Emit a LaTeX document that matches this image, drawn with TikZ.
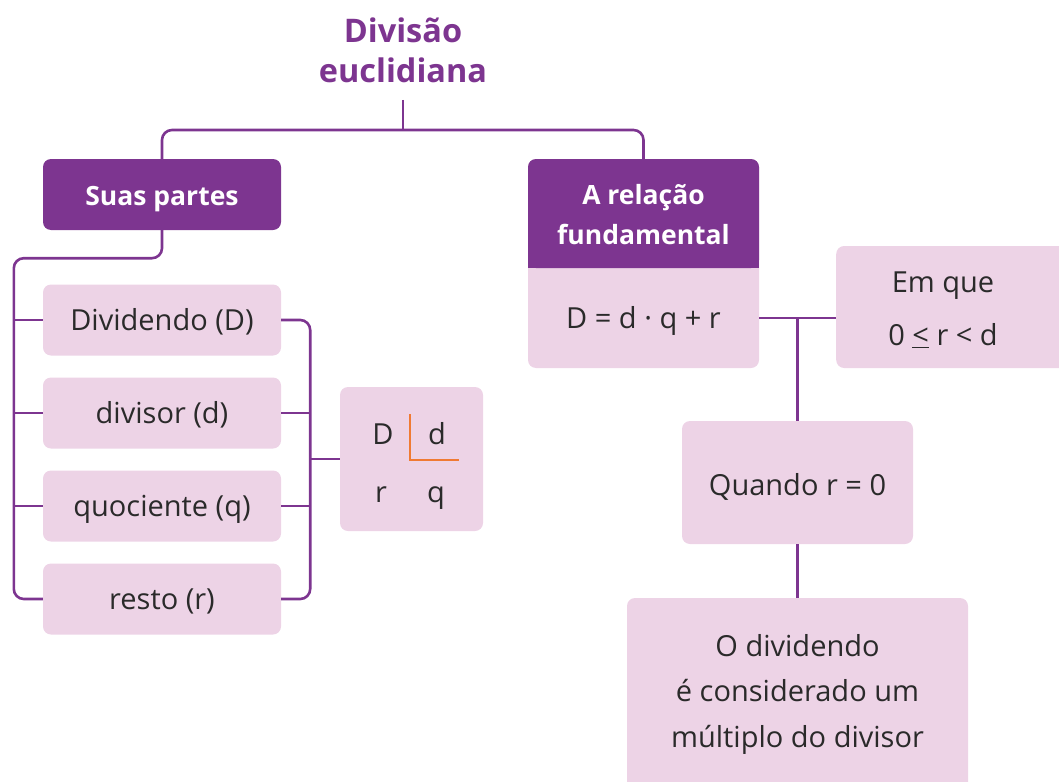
\documentclass[tikz,border=0pt]{standalone}
\usepackage{fontspec}
\setmainfont{Open Sans}
\definecolor{purp}{HTML}{7D3590}
\definecolor{pinkf}{HTML}{EDD3E6}
\definecolor{ink}{HTML}{2A2A2A}
\definecolor{orng}{HTML}{F07A33}
\begin{document}
\begin{tikzpicture}[x=1pt,y=-1pt,
  conn/.style={draw=purp, line width=2.6pt},
  bodyfont/.style={font=\fontsize{29}{34}\selectfont},
  pinkbox/.style={fill=pinkf, rounded corners=8pt, inner sep=0pt, text=ink,
    bodyfont, text height=21pt, text depth=0pt},
  headbox/.style={fill=purp, rounded corners=8pt, inner sep=0pt, text=white,
    font=\fontsize{26.5}{40}\selectfont\bfseries},
  txt/.style={text=ink, inner sep=0pt, align=center},
  titletxt/.style={text=purp, inner sep=0pt, align=center,
    font=\fontsize{32.5}{40}\selectfont\bfseries}]
\useasboundingbox (0,0) rectangle (1059,781);

% title
\node[titletxt] (title) at (403,50) {Divisão\\euclidiana};
\coordinate (top) at (403,100);
\coordinate (hub) at (403,130);

% left branch
\node[headbox, minimum width=238pt, minimum height=71pt, text height=22pt, text depth=0pt] (suas) at (162,194.5) {Suas partes};
\node[pinkbox, minimum width=238pt, minimum height=71pt] (dividendo) at (162,320) {Dividendo (D)};
\node[pinkbox, minimum width=238pt, minimum height=71pt] (divisor) at (162,413) {divisor (d)};
\node[pinkbox, minimum width=238pt, minimum height=71pt] (quoc) at (162,506) {quociente (q)};
\node[pinkbox, minimum width=238pt, minimum height=71pt] (resto) at (162,599) {resto (r)};

% D | d box
\node[pinkbox, minimum width=143pt, minimum height=144pt] (dd) at (411.5,459) {};
\node[txt, anchor=base, bodyfont] (bD) at (383,444) {D};
\node[txt, anchor=base, bodyfont] (bd) at (437,444) {d};
\node[txt, anchor=base, bodyfont] (br) at (381,502) {r};
\node[txt, anchor=base, bodyfont] (bq) at (436,502) {q};
\draw[orng, line width=2pt] (410,414) -- (410,460) -- (459,460);

% right branch
\node[pinkbox, minimum width=231pt, minimum height=209pt] (relbox) at (643.5,263.5) {};
\node[headbox, minimum width=231pt, minimum height=109pt] (relhead) at (643.5,213.5) {};
\fill[purp] (528,240) rectangle (759,268);
\node[txt, text=white, align=center, font=\fontsize{26.5}{40}\selectfont\bfseries] (reltxt) at (643.5,215) {A relação\\fundamental};
\node[txt, minimum width=231pt, minimum height=100pt, bodyfont, text height=21pt, text depth=0pt] (formula) at (643.5,318) {D = d · q + r};

\node[pinkbox, minimum width=240pt, minimum height=122pt, anchor=west] (emque) at (836,307) {};
\node[txt, font=\fontsize{29}{53}\selectfont] (emquetxt) at (943,310) {Em que\\0 \underline{<} r < d};

\node[pinkbox, minimum width=231pt, minimum height=123pt, text height=26pt] (quando) at (797.5,482.5) {Quando r = 0};

\node[pinkbox, minimum width=341pt, minimum height=202pt] (odiv) at (797.5,699) {};
\node[txt, font=\fontsize{29}{45.5}\selectfont] (odivtxt) at (797.5,694) {O dividendo\\é considerado um\\múltiplo do divisor};

% connectors
\draw[conn] (top) -- (hub);
\draw[conn, rounded corners=10pt] (suas.north) |- (hub) -| (relhead.north);

\draw[conn, rounded corners=10pt] (suas.south) -- ++(0,28) -| ([xshift=-29pt]resto.west) -- (resto.west);
\foreach \n in {dividendo,divisor,quoc} \draw[conn] (\n.west) -- ++(-29,0);

\draw[conn, rounded corners=10pt] (dividendo.east) -- ++(29,0) |- (resto.east);
\foreach \n in {divisor,quoc} \draw[conn] (\n.east) -- ++(29,0);
\draw[conn] (dd.west) -- ++(-31,0);

\draw[conn] (formula.east) -- (formula.east -| emque.west);
\draw[conn] (formula.east -| quando.north) -- (quando.north);
\draw[conn] (quando.south) -- (odiv.north);
\end{tikzpicture}
\end{document}
